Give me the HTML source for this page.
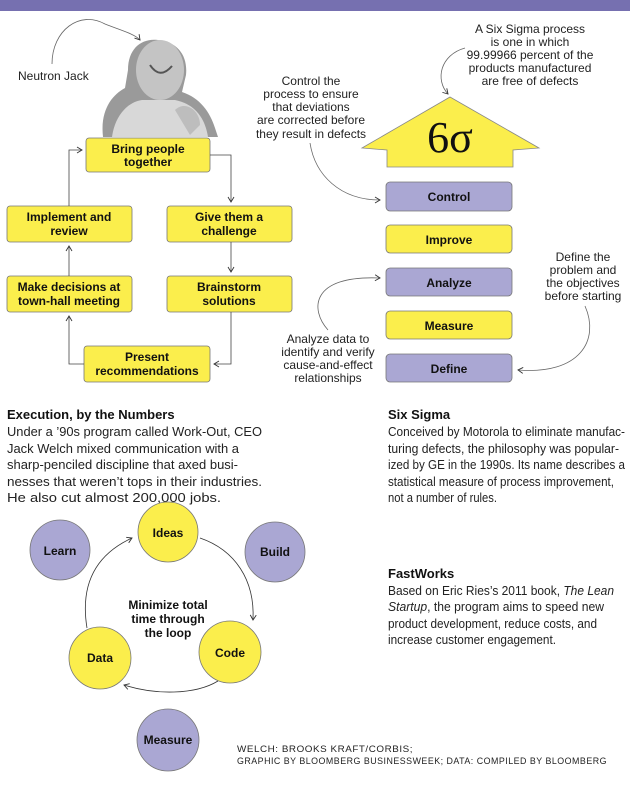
<!DOCTYPE html>
<html><head><meta charset="utf-8"><style>
html,body{margin:0;padding:0;background:#fff;}
svg{display:block;font-family:"Liberation Sans",sans-serif;}
.b{font-weight:bold;font-size:12px;fill:#111;}
.t{font-size:12px;fill:#222;}
.p{font-size:12.5px;fill:#222;}
.h{font-size:13px;font-weight:bold;fill:#111;}
.c{font-size:9px;fill:#222;letter-spacing:0.5px;}
</style></head><body>
<svg width="630" height="787" viewBox="0 0 630 787" xmlns="http://www.w3.org/2000/svg">
<defs>
<marker id="a" markerWidth="8" markerHeight="8" refX="6" refY="4" orient="auto" markerUnits="userSpaceOnUse"><path d="M1,1 L6,4 L1,7" fill="none" stroke="#333" stroke-width="0.9"/></marker>
</defs>
<rect x="0" y="0" width="630" height="11" fill="#7670b0"/>

<path d="M103,137 C100,110 112,95 125,88 L128,70 C128,48 142,38 158,40 C178,42 188,56 186,75 L182,92 C200,98 210,112 215,128 L218,137 Z" fill="#9a9a9a"/>
<ellipse cx="160" cy="70" rx="24" ry="30" fill="#c4c4c4"/>
<path d="M112,137 C115,115 128,102 142,100 L175,100 C195,104 205,118 208,137 Z" fill="#d8d8d8"/>
<path d="M150,65 Q160,80 172,66" fill="none" stroke="#555" stroke-width="2"/>
<path d="M175,110 C185,100 200,110 200,125 L190,135 Z" fill="#bdbdbd"/>

<text class="t" x="18" y="80">Neutron Jack</text>
<path d="M52,64 C52,30 80,10 105,24 C120,30 135,34 140,40" fill="none" stroke="#666" stroke-width="0.8" marker-end="url(#a)"/>

<g stroke="#777" stroke-width="0.8" fill="#fbee4c">
<rect x="86" y="138" width="124" height="34" rx="3"/>
<rect x="167" y="206" width="125" height="36" rx="3"/>
<rect x="7" y="206" width="125" height="36" rx="3"/>
<rect x="7" y="276" width="125" height="36" rx="3"/>
<rect x="167" y="276" width="125" height="36" rx="3"/>
<rect x="84" y="346" width="126" height="36" rx="3"/>
</g>
<g text-anchor="middle">
<text class="b" x="148" y="153">Bring people</text><text class="b" x="148" y="166">together</text>
<text class="b" x="229" y="221">Give them a</text><text class="b" x="229" y="235">challenge</text>
<text class="b" x="69" y="221">Implement and</text><text class="b" x="69" y="235">review</text>
<text class="b" x="69" y="291">Make decisions at</text><text class="b" x="69" y="305">town-hall meeting</text>
<text class="b" x="229" y="291">Brainstorm</text><text class="b" x="229" y="305">solutions</text>
<text class="b" x="147" y="361">Present</text><text class="b" x="147" y="375">recommendations</text>
</g>
<g fill="none" stroke="#444" stroke-width="0.8" marker-end="url(#a)">
<path d="M210,155 L231,155 L231,202"/>
<path d="M231,242 L231,272"/>
<path d="M231,312 L231,364 L214,364"/>
<path d="M84,364 L69,364 L69,316"/>
<path d="M69,276 L69,246"/>
<path d="M69,206 L69,150 L82,150"/>
</g>

<path d="M450,97 L539,148 L513,150 L513,167 L387,167 L387,150 L362,148 Z" fill="#fbee4c" stroke="#888" stroke-width="0.8"/>
<text x="450" y="152" text-anchor="middle" font-family="Liberation Serif,serif" font-size="44" fill="#111">6σ</text>
<g stroke="#777" stroke-width="0.8">
<rect x="386" y="182" width="126" height="29" rx="4" fill="#aaa7d3"/>
<rect x="386" y="225" width="126" height="28" rx="4" fill="#fbee4c"/>
<rect x="386" y="268" width="126" height="28" rx="4" fill="#aaa7d3"/>
<rect x="386" y="311" width="126" height="28" rx="4" fill="#fbee4c"/>
<rect x="386" y="354" width="126" height="28" rx="4" fill="#aaa7d3"/>
</g>
<g text-anchor="middle">
<text class="b" x="449" y="201">Control</text>
<text class="b" x="449" y="244">Improve</text>
<text class="b" x="449" y="287">Analyze</text>
<text class="b" x="449" y="330">Measure</text>
<text class="b" x="449" y="373">Define</text>
<text class="t" x="530" y="33">A Six Sigma process</text>
<text class="t" x="530" y="46">is one in which</text>
<text class="t" x="530" y="59">99.99966 percent of the</text>
<text class="t" x="530" y="72">products manufactured</text>
<text class="t" x="530" y="85">are free of defects</text>
<text class="t" x="311" y="85">Control the</text>
<text class="t" x="311" y="98">process to ensure</text>
<text class="t" x="311" y="111">that deviations</text>
<text class="t" x="311" y="124">are corrected before</text>
<text class="t" x="311" y="138">they result in defects</text>
<text class="t" x="583" y="261">Define the</text>
<text class="t" x="583" y="274">problem and</text>
<text class="t" x="583" y="287">the objectives</text>
<text class="t" x="583" y="300">before starting</text>
<text class="t" x="328" y="343">Analyze data to</text>
<text class="t" x="328" y="356">identify and verify</text>
<text class="t" x="328" y="369">cause-and-effect</text>
<text class="t" x="328" y="382">relationships</text>
</g>
<g fill="none" stroke="#666" stroke-width="0.8" marker-end="url(#a)">
<path d="M465,48 C440,55 435,80 448,94"/>
<path d="M310,143 C315,175 340,200 380,200"/>
<path d="M585,306 C600,340 580,375 518,370"/>
<path d="M328,330 C310,310 310,275 380,278"/>
</g>

<text class="h" x="7" y="419">Execution, by the Numbers</text>
<text class="p" x="7" y="436" textLength="255" lengthAdjust="spacingAndGlyphs">Under a ’90s program called Work-Out, CEO</text>
<text class="p" x="7" y="453" textLength="232" lengthAdjust="spacingAndGlyphs">Jack Welch mixed communication with a</text>
<text class="p" x="7" y="469" textLength="231" lengthAdjust="spacingAndGlyphs">sharp-penciled discipline that axed busi-</text>
<text class="p" x="7" y="486" textLength="255" lengthAdjust="spacingAndGlyphs">nesses that weren’t tops in their industries.</text>
<text class="p" x="7" y="502" textLength="214" lengthAdjust="spacingAndGlyphs">He also cut almost 200,000 jobs.</text>
<text class="h" x="388" y="419">Six Sigma</text>
<text class="p" x="388" y="436" textLength="237" lengthAdjust="spacingAndGlyphs">Conceived by Motorola to eliminate manufac-</text>
<text class="p" x="388" y="453" textLength="231" lengthAdjust="spacingAndGlyphs">turing defects, the philosophy was popular-</text>
<text class="p" x="388" y="469" textLength="237" lengthAdjust="spacingAndGlyphs">ized by GE in the 1990s. Its name describes a</text>
<text class="p" x="388" y="486" textLength="226" lengthAdjust="spacingAndGlyphs">statistical measure of process improvement,</text>
<text class="p" x="388" y="502" textLength="109" lengthAdjust="spacingAndGlyphs">not a number of rules.</text>
<text class="h" x="388" y="578">FastWorks</text>
<text class="p" x="388" y="595" textLength="226" lengthAdjust="spacingAndGlyphs">Based on Eric Ries’s 2011 book, <tspan font-style="italic">The Lean</tspan></text>
<text class="p" x="388" y="611" textLength="216" lengthAdjust="spacingAndGlyphs"><tspan font-style="italic">Startup</tspan>, the program aims to speed new</text>
<text class="p" x="388" y="628" textLength="209" lengthAdjust="spacingAndGlyphs">product development, reduce costs, and</text>
<text class="p" x="388" y="644" textLength="168" lengthAdjust="spacingAndGlyphs">increase customer engagement.</text>

<g stroke="#777" stroke-width="0.8">
<circle cx="168" cy="532" r="30" fill="#fbee4c"/>
<circle cx="60" cy="550" r="30" fill="#aaa7d3"/>
<circle cx="275" cy="552" r="30" fill="#aaa7d3"/>
<circle cx="100" cy="658" r="31" fill="#fbee4c"/>
<circle cx="230" cy="652" r="31" fill="#fbee4c"/>
<circle cx="168" cy="740" r="31" fill="#aaa7d3"/>
</g>
<g fill="none" stroke="#333" stroke-width="0.8" marker-end="url(#a)">
<path d="M200,538 C235,550 255,580 253,620"/>
<path d="M218,681 C195,695 155,695 124,685"/>
<path d="M87,628 C80,585 95,555 132,538"/>
</g>
<g text-anchor="middle">
<text class="b" x="168" y="537">Ideas</text>
<text class="b" x="60" y="555">Learn</text>
<text class="b" x="275" y="556">Build</text>
<text class="b" x="100" y="662">Data</text>
<text class="b" x="230" y="657">Code</text>
<text class="b" x="168" y="744">Measure</text>
<text class="b" x="168" y="609">Minimize total</text>
<text class="b" x="168" y="623">time through</text>
<text class="b" x="168" y="637">the loop</text>
</g>
<text class="c" x="237" y="752" textLength="176" lengthAdjust="spacingAndGlyphs">WELCH: BROOKS KRAFT/CORBIS;</text>
<text class="c" x="237" y="764" textLength="370" lengthAdjust="spacingAndGlyphs">GRAPHIC BY BLOOMBERG BUSINESSWEEK; DATA: COMPILED BY BLOOMBERG</text>
</svg>
</body></html>
